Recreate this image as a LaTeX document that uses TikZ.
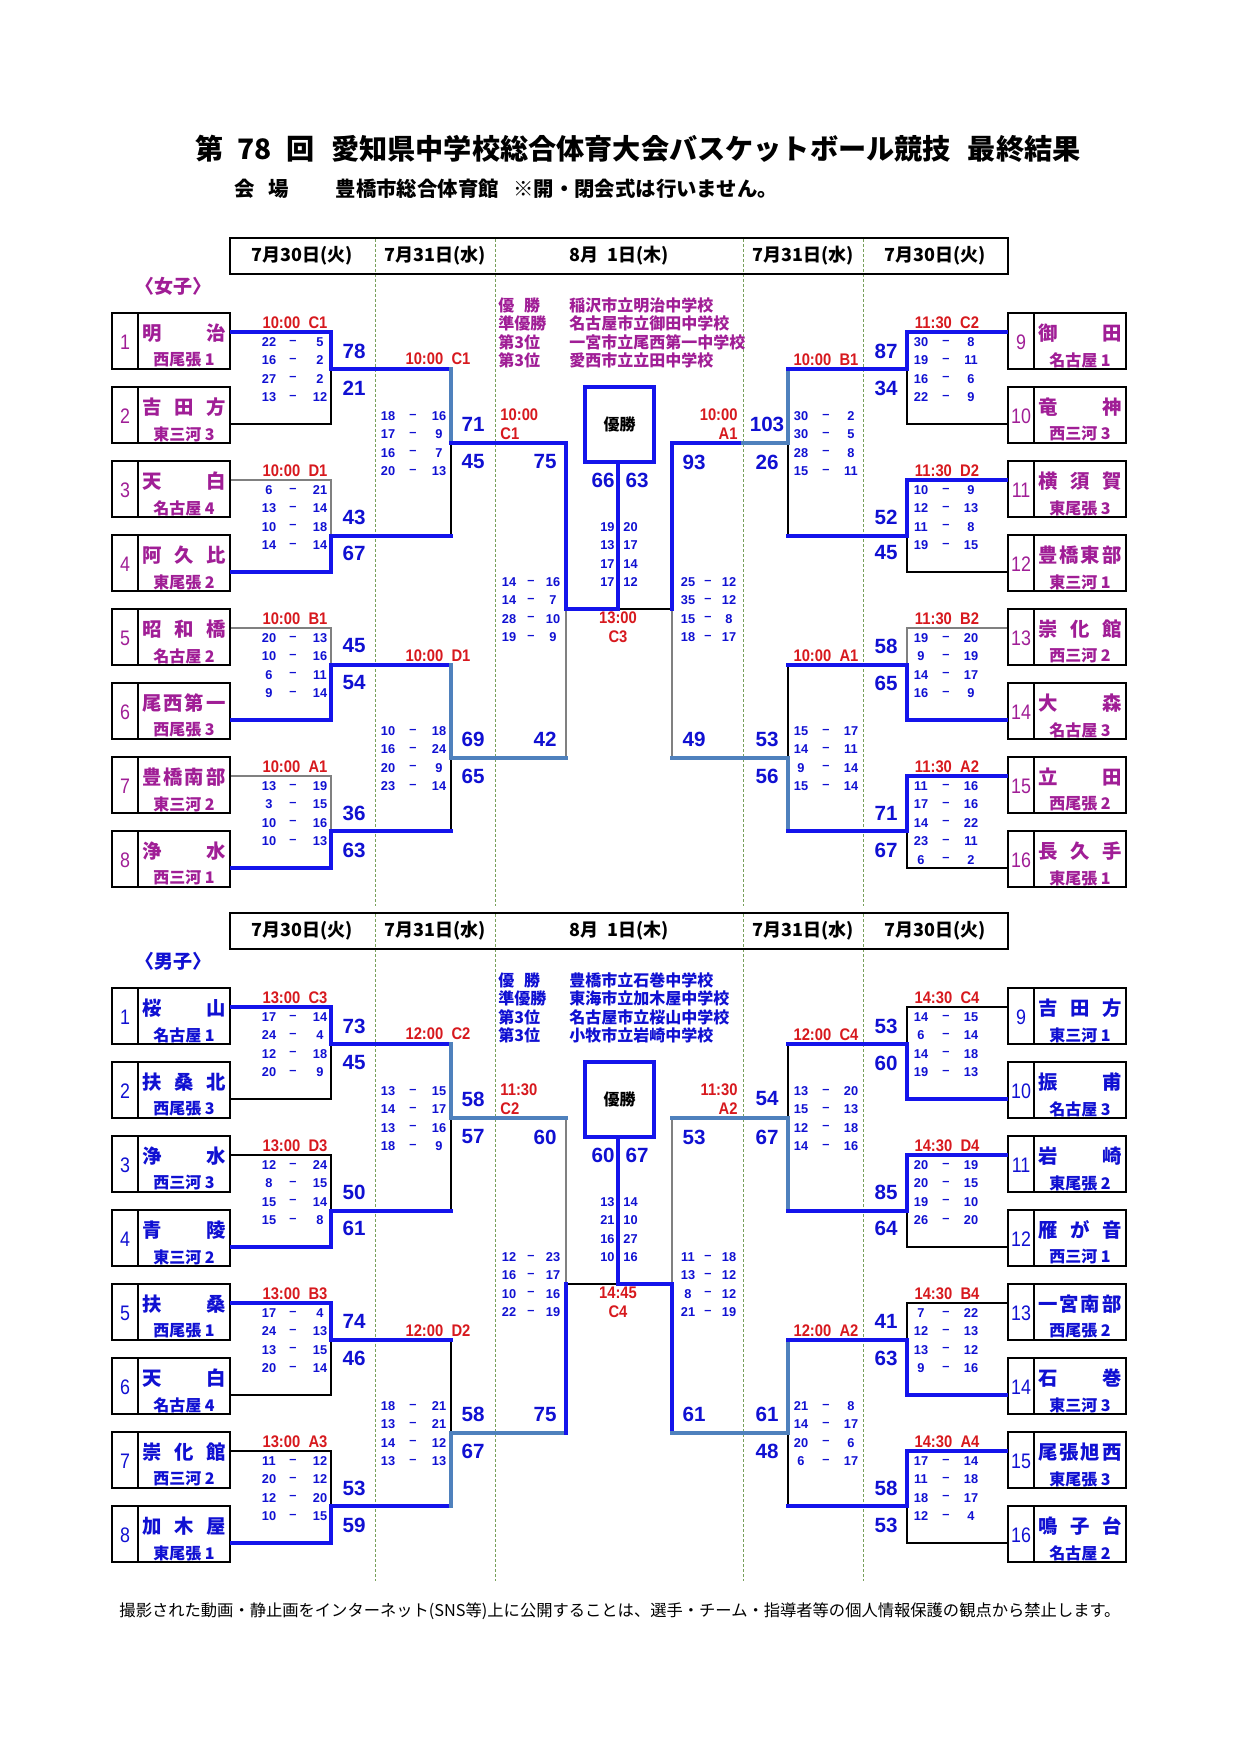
\documentclass[tikz,border=0pt]{standalone}
\usepackage{fontspec}
\usepackage{graphicx}
\setmainfont{Liberation Sans}
\newfontfamily\jp{Noto Sans CJK JP}
\definecolor{tblue}{RGB}{16,16,210}
\definecolor{lblue}{RGB}{20,20,235}
\definecolor{steel}{RGB}{79,129,189}
\definecolor{tred}{RGB}{215,25,30}
\definecolor{wmag}{RGB}{160,30,150}
\definecolor{dgreen}{RGB}{120,160,90}
\definecolor{lgray}{RGB}{128,128,128}
\colorlet{tc}{wmag}
\tikzset{
 blu/.style={draw=lblue, line width=1.55pt, line cap=rect},
 stl/.style={draw=steel, line width=1.55pt, line cap=rect},
 thn/.style={draw=black, line width=0.6pt},
 gry/.style={draw=lgray, line width=0.75pt},
 divl/.style={draw=dgreen, line width=0.5pt, dash pattern=on 1.5pt off 1pt},
 tb/.style={draw, line width=1.25pt, minimum width=59pt, minimum height=28pt, inner sep=0pt},
 num/.style={font=\fontsize{10.5pt}{11pt}\selectfont, text=tc, inner sep=0pt},
 nm/.style={font=\jp\bfseries\fontsize{9.7pt}{11pt}\selectfont, text=tc, inner sep=0pt},
 dist/.style={font=\jp\bfseries\fontsize{8pt}{9pt}\selectfont, text=tc, inner sep=0pt},
 sc/.style={font=\bfseries\fontsize{10.3pt}{11pt}\selectfont, text=tblue, inner sep=0pt},
 ss/.style={font=\bfseries\fontsize{6.4pt}{7pt}\selectfont, text=tblue, inner sep=0pt},
 tl/.style={font=\bfseries\fontsize{8.4pt}{9pt}\selectfont, text=tred, inner sep=0pt},
 hd/.style={font=\jp\bfseries\fontsize{9pt}{10pt}\selectfont, inner sep=0pt},
 ch/.style={font=\jp\bfseries\fontsize{8pt}{9pt}\selectfont, text=tc, inner sep=0pt, anchor=west},
 fbox/.style={draw=lblue, line width=1.8pt, minimum width=34.5pt, minimum height=37.5pt, inner sep=0pt, font=\jp\bfseries\fontsize{8pt}{9pt}\selectfont},
}
\newcommand\T[1]{\scalebox{0.88}[1]{#1}}
\newcommand\tbox[6]{%
  \node[tb] (#1) at ({#2+59},{#3+28}) {};
  \draw[line width=1.25pt] ({#2+26},#3) -- ({#2+26},{#3+56});
  \node[num] (#1n) at ({#2+13},{#3+29}) {\scalebox{0.85}[1]{#4}};
  \node[nm] (#1m) at ({#2+72},{#3+20}) {\hbox to 41.5pt{#5}};
  \node[dist] (#1d) at ({#2+72},{#3+47}) {#6};
}
\newcommand\sets[6]{%
  \foreach \a/\b [count=\k from 0] in {#6}{%
    \node[ss] (#1a\k) at (#2,{#5+18.4*\k}) {\a};
    \node[ss] (#1d\k) at (#3,{#5+18.4*\k}) {–};
    \node[ss] (#1b\k) at (#4,{#5+18.4*\k}) {\b};}%
}
\newcommand\fsets[3]{%
  \foreach \a/\b [count=\k from 0] in {#3}{%
    \node[ss,anchor=east] (#1a\k) at (615,{#2+18.4*\k}) {\a};
    \node[ss,anchor=west] (#1b\k) at (623,{#2+18.4*\k}) {\b};}%
}
\newcommand\header[1]{%
  \foreach \x in {375,495,743,863} \draw[divl] (\x,239) -- (\x,906);
  \node[draw, line width=1pt, minimum width=389pt, minimum height=18pt, inner sep=0pt] (#1H) at (619,256) {};
  \node[hd] (#1H1) at (302,256) {7月30日(火)};
  \node[hd] (#1H2) at (435,256) {7月31日(水)};
  \node[hd] (#1H3) at (619,256) {8月\hspace{0.5em}1日(木)};
  \node[hd] (#1H4) at (803,256) {7月31日(水)};
  \node[hd] (#1H5) at (935,256) {7月30日(火)};
}
\begin{document}
\begin{tikzpicture}[x=0.5pt,y=-0.5pt]
\useasboundingbox (0,0) rectangle (1240,1754);
\fill[white] (0,0) rectangle (1240,1754);

% title
\node (title) at (638,149) {\resizebox{442.5pt}{!}{\jp\bfseries 第\hspace{0.5em}78\hspace{0.5em}回\hspace{0.6em}愛知県中学校総合体育大会バスケットボール競技\hspace{0.6em}最終結果}};
\node[anchor=west, inner sep=0pt, font=\jp\bfseries\fontsize{10.2pt}{12pt}\selectfont] (sub) at (234,189) {会\hspace{0.67em}場\hspace{2.3em}豊橋市総合体育館\hspace{0.7em}※開・閉会式は行いません。};

%================ WOMEN =================
\begin{scope}
\colorlet{tc}{wmag}
\header{w}
\node[font=\jp\bfseries\fontsize{9.5pt}{10pt}\selectfont, text=tc, inner sep=0pt] (wS) at (173,286) {〈女子〉};
\tbox{wL1}{112}{313}{1}{明\hfill 治}{西尾張 1}
\tbox{wL2}{112}{387}{2}{吉\hfill 田\hfill 方}{東三河 3}
\tbox{wL3}{112}{461}{3}{天\hfill 白}{名古屋 4}
\tbox{wL4}{112}{535}{4}{阿\hfill 久\hfill 比}{東尾張 2}
\tbox{wL5}{112}{609}{5}{昭\hfill 和\hfill 橋}{名古屋 2}
\tbox{wL6}{112}{683}{6}{尾\hfill 西\hfill 第\hfill 一}{西尾張 3}
\tbox{wL7}{112}{757}{7}{豊\hfill 橋\hfill 南\hfill 部}{東三河 2}
\tbox{wL8}{112}{831}{8}{浄\hfill 水}{西三河 1}
\tbox{wR9}{1008}{313}{9}{御\hfill 田}{名古屋 1}
\tbox{wR10}{1008}{387}{10}{竜\hfill 神}{西三河 3}
\tbox{wR11}{1008}{461}{11}{横\hfill 須\hfill 賀}{東尾張 3}
\tbox{wR12}{1008}{535}{12}{豊\hfill 橋\hfill 東\hfill 部}{東三河 1}
\tbox{wR13}{1008}{609}{13}{崇\hfill 化\hfill 館}{西三河 2}
\tbox{wR14}{1008}{683}{14}{大\hfill 森}{名古屋 3}
\tbox{wR15}{1008}{757}{15}{立\hfill 田}{西尾張 2}
\tbox{wR16}{1008}{831}{16}{長\hfill 久\hfill 手}{東尾張 1}
% thin lines
\draw[thn] (wL2.east |- 0,424) -| (331,369);
\draw[gry] (wL3.east |- 0,480) -| (331,536);
\draw[gry] (wL5.east |- 0,628) -| (331,665);
\draw[gry] (wL7.east |- 0,776) -| (331,831);
\draw[thn] (451,536) -- (451,443);
\draw[thn] (451,831) -- (451,758);
\draw[gry] (566,758) -- (566,609);
\draw[thn] (618,609) -- (672,609);
\draw[gry] (672,758) -- (672,609);
\draw[thn] (788,536) -- (788,443);
\draw[thn] (788,665) -- (788,758);
\draw[thn] (wR10.west |- 0,424) -| (907,369);
\draw[thn] (wR12.west |- 0,572) -| (907,536);
\draw[gry] (wR13.west |- 0,628) -| (907,665);
\draw[thn] (wR16.west |- 0,868) -| (907,831);
% thick
\draw[blu] (wL1.east |- 0,332) -| (331,369) -- (451,369);
\draw[blu] (wL4.east |- 0,572) -| (331,536) -- (451,536);
\draw[blu] (wL6.east |- 0,720) -| (331,665) -- (451,665);
\draw[blu] (wL8.east |- 0,868) -| (331,831) -- (451,831);
\draw[stl] (451,369) -- (451,443);
\draw[stl] (451,665) -- (451,758) -- (566,758);
\draw[blu] (451,443) -- (566,443) -- (566,609) -- (618,609) -- (618,462);
\draw[blu] (672,609) -- (672,443) -- (743,443);
\draw[stl] (743,443) -- (788,443) -- (788,369);
\draw[stl] (672,758) -- (788,758) -- (788,831);
\draw[blu] (788,369) -- (907,369) |- (wR9.west |- 0,332);
\draw[blu] (788,536) -- (907,536) |- (wR11.west |- 0,480);
\draw[blu] (788,665) -- (907,665) |- (wR14.west |- 0,720);
\draw[blu] (788,831) -- (907,831) |- (wR15.west |- 0,776);
\node[fbox] (wfin) at (619.5,424.5) {優勝};
% champion list
\node[ch] (wc1) at (498,305) {優\hspace{0.6em}勝};
\node[ch] (wc2) at (498,323.5) {準優勝};
\node[ch] (wc3) at (498,342) {第3位};
\node[ch] (wc4) at (498,360.5) {第3位};
\node[ch] (wc5) at (569,305) {稲沢市立明治中学校};
\node[ch] (wc6) at (569,323.5) {名古屋市立御田中学校};
\node[ch] (wc7) at (569,342) {一宮市立尾西第一中学校};
\node[ch] (wc8) at (569,360.5) {愛西市立立田中学校};
% big scores
\node[sc] (ws1) at (354,351) {78};  \node[sc] (ws2) at (354,388) {21};
\node[sc] (ws3) at (354,517) {43};  \node[sc] (ws4) at (354,553) {67};
\node[sc] (ws5) at (354,646) {45};  \node[sc] (ws6) at (354,683) {54};
\node[sc] (ws7) at (354,813) {36};  \node[sc] (ws8) at (354,850) {63};
\node[sc] (ws9) at (473,424) {71};  \node[sc] (ws10) at (473,462) {45};
\node[sc] (ws11) at (473,739) {69}; \node[sc] (ws12) at (473,776) {65};
\node[sc] (ws13) at (545,462) {75}; \node[sc] (ws14) at (545,739) {42};
\node[sc] (ws15) at (603,480) {66}; \node[sc] (ws16) at (637,480) {63};
\node[sc] (ws17) at (694,462) {93}; \node[sc] (ws18) at (694,739) {49};
\node[sc] (ws19) at (767,424) {103}; \node[sc] (ws20) at (767,462) {26};
\node[sc] (ws21) at (767,739) {53}; \node[sc] (ws22) at (767,776) {56};
\node[sc] (ws23) at (886,351) {87}; \node[sc] (ws24) at (886,388) {34};
\node[sc] (ws25) at (886,517) {52}; \node[sc] (ws26) at (886,553) {45};
\node[sc] (ws27) at (886,646) {58}; \node[sc] (ws28) at (886,683) {65};
\node[sc] (ws29) at (886,813) {71}; \node[sc] (ws30) at (886,850) {67};
% time labels
\node[tl] (wt1) at (295,323) {\T{10:00~~C1}};
\node[tl] (wt2) at (295,471) {\T{10:00~~D1}};
\node[tl] (wt3) at (295,619) {\T{10:00~~B1}};
\node[tl] (wt4) at (295,767) {\T{10:00~~A1}};
\node[tl] (wt5) at (438,359) {\T{10:00~~C1}};
\node[tl] (wt6) at (438,656) {\T{10:00~~D1}};
\node[tl,anchor=west] (wt7) at (500,415) {\T{10:00}};
\node[tl,anchor=west] (wt8) at (500,434) {\T{C1}};
\node[tl] (wt9) at (618,618) {\T{13:00}};
\node[tl] (wt10) at (618,637) {\T{C3}};
\node[tl,anchor=east] (wt11) at (738,415) {\T{10:00}};
\node[tl,anchor=east] (wt12) at (738,434) {\T{A1}};
\node[tl] (wt13) at (826,360) {\T{10:00~~B1}};
\node[tl] (wt14) at (826,656) {\T{10:00~~A1}};
\node[tl] (wt15) at (947,323) {\T{11:30~~C2}};
\node[tl] (wt16) at (947,471) {\T{11:30~~D2}};
\node[tl] (wt17) at (947,619) {\T{11:30~~B2}};
\node[tl] (wt18) at (947,767) {\T{11:30~~A2}};
% set scores
\sets{wa}{269}{293}{320}{342}{22/5,16/2,27/2,13/12}
\sets{wb}{269}{293}{320}{490}{6/21,13/14,10/18,14/14}
\sets{wc}{269}{293}{320}{638}{20/13,10/16,6/11,9/14}
\sets{wd}{269}{293}{320}{786}{13/19,3/15,10/16,10/13}
\sets{we}{388}{413}{439}{416}{18/16,17/9,16/7,20/13}
\sets{wf}{388}{413}{439}{731}{10/18,16/24,20/9,23/14}
\sets{wg}{509}{531}{553}{582}{14/16,14/7,28/10,19/9}
\fsets{wh}{527}{19/20,13/17,17/14,17/12}
\sets{wi}{688}{708}{729}{582}{25/12,35/12,15/8,18/17}
\sets{wj}{801}{826}{851}{416}{30/2,30/5,28/8,15/11}
\sets{wk}{801}{826}{851}{731}{15/17,14/11,9/14,15/14}
\sets{wl}{921}{946}{971}{342}{30/8,19/11,16/6,22/9}
\sets{wm}{921}{946}{971}{490}{10/9,12/13,11/8,19/15}
\sets{wn}{921}{946}{971}{638}{19/20,9/19,14/17,16/9}
\sets{wo}{921}{946}{971}{786}{11/16,17/16,14/22,23/11,6/2}
\end{scope}

%================ MEN =================
\begin{scope}[shift={(0,675)}]
\colorlet{tc}{tblue}
\header{m}
\node[font=\jp\bfseries\fontsize{9.5pt}{10pt}\selectfont, text=tc, inner sep=0pt] (mS) at (173,286) {〈男子〉};
\tbox{mL1}{112}{313}{1}{桜\hfill 山}{名古屋 1}
\tbox{mL2}{112}{387}{2}{扶\hfill 桑\hfill 北}{西尾張 3}
\tbox{mL3}{112}{461}{3}{浄\hfill 水}{西三河 3}
\tbox{mL4}{112}{535}{4}{青\hfill 陵}{東三河 2}
\tbox{mL5}{112}{609}{5}{扶\hfill 桑}{西尾張 1}
\tbox{mL6}{112}{683}{6}{天\hfill 白}{名古屋 4}
\tbox{mL7}{112}{757}{7}{崇\hfill 化\hfill 館}{西三河 2}
\tbox{mL8}{112}{831}{8}{加\hfill 木\hfill 屋}{東尾張 1}
\tbox{mR9}{1008}{313}{9}{吉\hfill 田\hfill 方}{東三河 1}
\tbox{mR10}{1008}{387}{10}{振\hfill 甫}{名古屋 3}
\tbox{mR11}{1008}{461}{11}{岩\hfill 崎}{東尾張 2}
\tbox{mR12}{1008}{535}{12}{雁\hfill が\hfill 音}{西三河 1}
\tbox{mR13}{1008}{609}{13}{一\hfill 宮\hfill 南\hfill 部}{西尾張 2}
\tbox{mR14}{1008}{683}{14}{石\hfill 巻}{東三河 3}
\tbox{mR15}{1008}{757}{15}{尾\hfill 張\hfill 旭\hfill 西}{東尾張 3}
\tbox{mR16}{1008}{831}{16}{鳴\hfill 子\hfill 台}{名古屋 2}
% thin
\draw[thn] (mL2.east |- 0,424) -| (331,369);
\draw[thn] (mL3.east |- 0,480) -| (331,536);
\draw[thn] (mL6.east |- 0,720) -| (331,665);
\draw[thn] (mL7.east |- 0,776) -| (331,831);
\draw[thn] (451,536) -- (451,443);
\draw[thn] (451,665) -- (451,758);
\draw[gry] (566,443) -- (566,609);
\draw[thn] (566,609) -- (618,609);
\draw[gry] (672,443) -- (672,609);
\draw[thn] (788,369) -- (788,443);
\draw[thn] (788,831) -- (788,758);
\draw[thn] (mR9.west |- 0,332) -| (907,369);
\draw[thn] (mR12.west |- 0,572) -| (907,536);
\draw[thn] (mR13.west |- 0,628) -| (907,665);
\draw[thn] (mR16.west |- 0,868) -| (907,831);
% thick
\draw[blu] (mL1.east |- 0,332) -| (331,369) -- (451,369);
\draw[blu] (mL4.east |- 0,572) -| (331,536) -- (451,536);
\draw[blu] (mL5.east |- 0,628) -| (331,665) -- (451,665);
\draw[blu] (mL8.east |- 0,868) -| (331,831) -- (451,831);
\draw[stl] (451,369) -- (451,443) -- (566,443);
\draw[stl] (451,831) -- (451,758) -- (566,758);
\draw[blu] (566,758) -- (566,609);
\draw[blu] (618,462) -- (618,609) -- (672,609) -- (672,758);
\draw[stl] (672,443) -- (788,443) -- (788,536);
\draw[stl] (672,758) -- (788,758) -- (788,665);
\draw[blu] (788,369) -- (907,369) |- (mR10.west |- 0,424);
\draw[blu] (788,536) -- (907,536) |- (mR11.west |- 0,480);
\draw[blu] (788,665) -- (907,665) |- (mR14.west |- 0,720);
\draw[blu] (788,831) -- (907,831) |- (mR15.west |- 0,776);
\node[fbox] (mfin) at (619.5,424.5) {優勝};
% champion list
\node[ch] (mc1) at (498,305) {優\hspace{0.6em}勝};
\node[ch] (mc2) at (498,323.5) {準優勝};
\node[ch] (mc3) at (498,342) {第3位};
\node[ch] (mc4) at (498,360.5) {第3位};
\node[ch] (mc5) at (569,305) {豊橋市立石巻中学校};
\node[ch] (mc6) at (569,323.5) {東海市立加木屋中学校};
\node[ch] (mc7) at (569,342) {名古屋市立桜山中学校};
\node[ch] (mc8) at (569,360.5) {小牧市立岩崎中学校};
% big scores
\node[sc] (ms1) at (354,351) {73};  \node[sc] (ms2) at (354,388) {45};
\node[sc] (ms3) at (354,517) {50};  \node[sc] (ms4) at (354,553) {61};
\node[sc] (ms5) at (354,646) {74};  \node[sc] (ms6) at (354,683) {46};
\node[sc] (ms7) at (354,813) {53};  \node[sc] (ms8) at (354,850) {59};
\node[sc] (ms9) at (473,424) {58};  \node[sc] (ms10) at (473,462) {57};
\node[sc] (ms11) at (473,739) {58}; \node[sc] (ms12) at (473,776) {67};
\node[sc] (ms13) at (545,462) {60}; \node[sc] (ms14) at (545,739) {75};
\node[sc] (ms15) at (603,480) {60}; \node[sc] (ms16) at (637,480) {67};
\node[sc] (ms17) at (694,462) {53}; \node[sc] (ms18) at (694,739) {61};
\node[sc] (ms19) at (767,424) {54}; \node[sc] (ms20) at (767,462) {67};
\node[sc] (ms21) at (767,739) {61}; \node[sc] (ms22) at (767,776) {48};
\node[sc] (ms23) at (886,351) {53}; \node[sc] (ms24) at (886,388) {60};
\node[sc] (ms25) at (886,517) {85}; \node[sc] (ms26) at (886,553) {64};
\node[sc] (ms27) at (886,646) {41}; \node[sc] (ms28) at (886,683) {63};
\node[sc] (ms29) at (886,813) {58}; \node[sc] (ms30) at (886,850) {53};
% time labels
\node[tl] (mt1) at (295,323) {\T{13:00~~C3}};
\node[tl] (mt2) at (295,471) {\T{13:00~~D3}};
\node[tl] (mt3) at (295,619) {\T{13:00~~B3}};
\node[tl] (mt4) at (295,767) {\T{13:00~~A3}};
\node[tl] (mt5) at (438,359) {\T{12:00~~C2}};
\node[tl] (mt6) at (438,656) {\T{12:00~~D2}};
\node[tl,anchor=west] (mt7) at (500,415) {\T{11:30}};
\node[tl,anchor=west] (mt8) at (500,434) {\T{C2}};
\node[tl] (mt9) at (618,618) {\T{14:45}};
\node[tl] (mt10) at (618,637) {\T{C4}};
\node[tl,anchor=east] (mt11) at (738,415) {\T{11:30}};
\node[tl,anchor=east] (mt12) at (738,434) {\T{A2}};
\node[tl] (mt13) at (826,360) {\T{12:00~~C4}};
\node[tl] (mt14) at (826,656) {\T{12:00~~A2}};
\node[tl] (mt15) at (947,323) {\T{14:30~~C4}};
\node[tl] (mt16) at (947,471) {\T{14:30~~D4}};
\node[tl] (mt17) at (947,619) {\T{14:30~~B4}};
\node[tl] (mt18) at (947,767) {\T{14:30~~A4}};
% set scores
\sets{ma}{269}{293}{320}{342}{17/14,24/4,12/18,20/9}
\sets{mb}{269}{293}{320}{490}{12/24,8/15,15/14,15/8}
\sets{mc}{269}{293}{320}{638}{17/4,24/13,13/15,20/14}
\sets{md}{269}{293}{320}{786}{11/12,20/12,12/20,10/15}
\sets{me}{388}{413}{439}{416}{13/15,14/17,13/16,18/9}
\sets{mf}{388}{413}{439}{731}{18/21,13/21,14/12,13/13}
\sets{mg}{509}{531}{553}{582}{12/23,16/17,10/16,22/19}
\fsets{mh}{527}{13/14,21/10,16/27,10/16}
\sets{mi}{688}{708}{729}{582}{11/18,13/12,8/12,21/19}
\sets{mj}{801}{826}{851}{416}{13/20,15/13,12/18,14/16}
\sets{mk}{801}{826}{851}{731}{21/8,14/17,20/6,6/17}
\sets{ml}{921}{946}{971}{342}{14/15,6/14,14/18,19/13}
\sets{mm}{921}{946}{971}{490}{20/19,20/15,19/10,26/20}
\sets{mn}{921}{946}{971}{638}{7/22,12/13,13/12,9/16}
\sets{mo}{921}{946}{971}{786}{17/14,11/18,18/17,12/4}
\end{scope}

% footer
\node (foot) at (620,1611) {\resizebox{500.5pt}{!}{\jp 撮影された動画・静止画をインターネット(SNS等)上に公開することは、選手・チーム・指導者等の個人情報保護の観点から禁止します。}};
\end{tikzpicture}
\end{document}
